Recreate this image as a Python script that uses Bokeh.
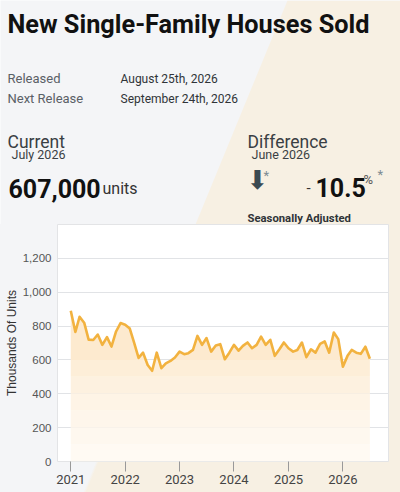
import numpy as np
import pandas as pd
from bokeh.plotting import figure
from bokeh.layouts import column
from bokeh.models import (FixedTicker, NumeralTickFormatter, DatetimeTickFormatter, Range1d)
from bokeh.embed import file_html
from bokeh.resources import INLINE
from bokeh.core.properties import value

# ---------------- data ----------------
title = "New Single-Family Houses Sold"
released = "August 25th, 2026"
next_release = "September 24th, 2026"
current_period = "July 2026"
current_value = "607,000"
diff_period = "June 2026"
diff_value = "10.5"

year_ticks = [2021, 2022, 2023, 2024, 2025, 2026]
y_ticks = [0, 200, 400, 600, 800, 1000, 1200]

sales_2021 = [890, 765, 855, 820, 720, 718, 750, 689, 735, 679, 768, 818]
sales_2022 = [808, 785, 705, 612, 643, 570, 536, 643, 551, 580, 594, 614]
sales_2023 = [649, 634, 640, 659, 742, 689, 729, 649, 685, 693, 604, 643]
sales_2024 = [689, 655, 683, 703, 669, 689, 738, 689, 719, 624, 663, 703]
sales_2025 = [669, 649, 659, 703, 616, 663, 643, 695, 709, 643, 762, 723]
sales_2026 = [560, 624, 659, 643, 636, 678, 607]

sales = np.array(sales_2021 + sales_2022 + sales_2023 + sales_2024 + sales_2025 + sales_2026, dtype=float)
dates = pd.date_range("2021-01-01", periods=len(sales), freq="MS")

GRAY = "#f4f5f7"
BEIGE = "#f7f0e3"
W = 400
HH = 224          # header height
CH = 268          # chart height

# ---------------- header (page-pixel coordinates) ----------------
hdr = figure(width=W, height=HH, output_backend="svg", toolbar_location=None,
             x_range=Range1d(0, W), y_range=Range1d(HH, 0),
             x_axis_location=None, y_axis_location=None,
             min_border=0, min_border_left=0, min_border_right=0,
             min_border_top=0, min_border_bottom=0, frame_align=False)
hdr.grid.visible = False
hdr.outline_line_color = None
hdr.background_fill_color = GRAY
hdr.border_fill_color = GRAY
hdr.patch(x=[287, 400, 400, 195], y=[0, 0, 224, 224], fill_color=BEIGE, line_color=None)

def txt(s, x, y, size, color="#333333", style="normal", font="Roboto", align="left"):
    hdr.text(x=[x], y=[y], text=[s], text_font=value(font), text_font_size=size,
             text_color=color, text_font_style=style, text_align=align,
             text_baseline="alphabetic")

txt(title, 7, 24, "25.3px", "#111111", "bold")
txt("Released", 7, 78, "13px", "#5a6066")
txt(released, 120, 78, "12px", "#2f3438")
txt("Next Release", 7, 98, "13px", "#5a6066")
txt(next_release, 120, 98, "12px", "#2f3438")

txt("Current", 7, 141, "17.5px", "#3a3f44")
txt(current_period, 11, 154, "12.5px", "#3a3f44")
txt(current_value, 8, 188, "25px", "#111111", "bold")
txt("units", 102, 188, "16px", "#333333")

txt("Difference", 247, 141, "17.5px", "#3a3f44")
txt(diff_period, 251, 154, "12.5px", "#3a3f44")
txt("\u2b07", 246, 179, "26px", "#3b4a52", font="DejaVu Sans")
txt("*", 263, 174.5, "13px", "#7d8b92")
txt("-", 306, 187, "15px", "#333333")
txt(diff_value, 315, 187, "25px", "#111111", "bold")
txt("%", 363, 179, "13px", "#555555")
txt("*", 377, 173.5, "13px", "#7d8b92")
txt("Seasonally Adjusted", 247, 218, "11.3px", "#2f3438", "bold")

# ---------------- chart ----------------
p = figure(width=W, height=CH, output_backend="svg", toolbar_location=None,
           x_axis_type="datetime",
           x_range=Range1d(pd.Timestamp("2020-10-04"), pd.Timestamp("2026-11-03")),
           y_range=Range1d(0, 1400),
           min_border_left=57, min_border_right=12, min_border_top=0, min_border_bottom=31,
           frame_align=False,
           styles={"background": "linear-gradient(112.33deg, %s 37.9%%, %s 38.5%%)" % (GRAY, BEIGE)})
p.border_fill_color = None
p.background_fill_color = "white"
p.outline_line_color = "#e3e4e6"

# area gradient approximated with stacked bands
levels = [0, 100, 200, 300, 400, 500, 600, 1400]
band_colors = ["#fffaf3", "#fef8ef", "#fef6eb", "#fef4e6", "#fdf1e0", "#fdeed8", "#fdeacf"]
for lo, hi, c in zip(levels[:-1], levels[1:], band_colors):
    top = np.minimum(sales, hi)
    bot = np.minimum(sales, lo)
    p.varea(x=dates, y1=top, y2=bot, fill_color=c, fill_alpha=1)

p.line(dates, sales, line_color="#f2b23f", line_width=2.6, line_join="round")

p.xaxis.ticker = FixedTicker(ticks=[pd.Timestamp(f"{y}-01-01").value // 10**6 for y in year_ticks])
p.xaxis.formatter = DatetimeTickFormatter(years="%Y", months="%Y", days="%Y", hours="%Y")
p.xaxis.axis_line_color = None
p.xaxis.major_tick_in = 0
p.xaxis.major_tick_out = 10
p.xaxis.major_tick_line_color = "#999999"
p.xaxis.minor_tick_line_color = None
p.xaxis.major_label_text_font = "Roboto"
p.xaxis.major_label_text_font_size = "13px"
p.xaxis.major_label_text_color = "#444444"
p.xaxis.major_label_standoff = 3
p.xaxis.axis_label_standoff = 0

p.yaxis.ticker = FixedTicker(ticks=y_ticks)
p.yaxis.formatter = NumeralTickFormatter(format="0,0")
p.yaxis.axis_line_color = None
p.yaxis.major_tick_line_color = None
p.yaxis.major_tick_out = 0
p.yaxis.minor_tick_line_color = None
p.yaxis.major_label_text_font = "Liberation Sans"
p.yaxis.major_label_text_font_size = "11.5px"
p.yaxis.major_label_text_color = "#555555"
p.yaxis.major_label_standoff = 6
p.yaxis.axis_label = "Thousands Of Units"
p.yaxis.axis_label_text_font = "Liberation Sans"
p.yaxis.axis_label_text_font_style = "normal"
p.yaxis.axis_label_text_font_size = "12px"
p.yaxis.axis_label_text_color = "#333333"
p.yaxis.axis_label_standoff = 1

p.xgrid.grid_line_color = None
p.ygrid.grid_line_color = "#e1e3e6"

layout = column(hdr, p, spacing=0)
open("out.html", "w").write(file_html(layout, INLINE))
